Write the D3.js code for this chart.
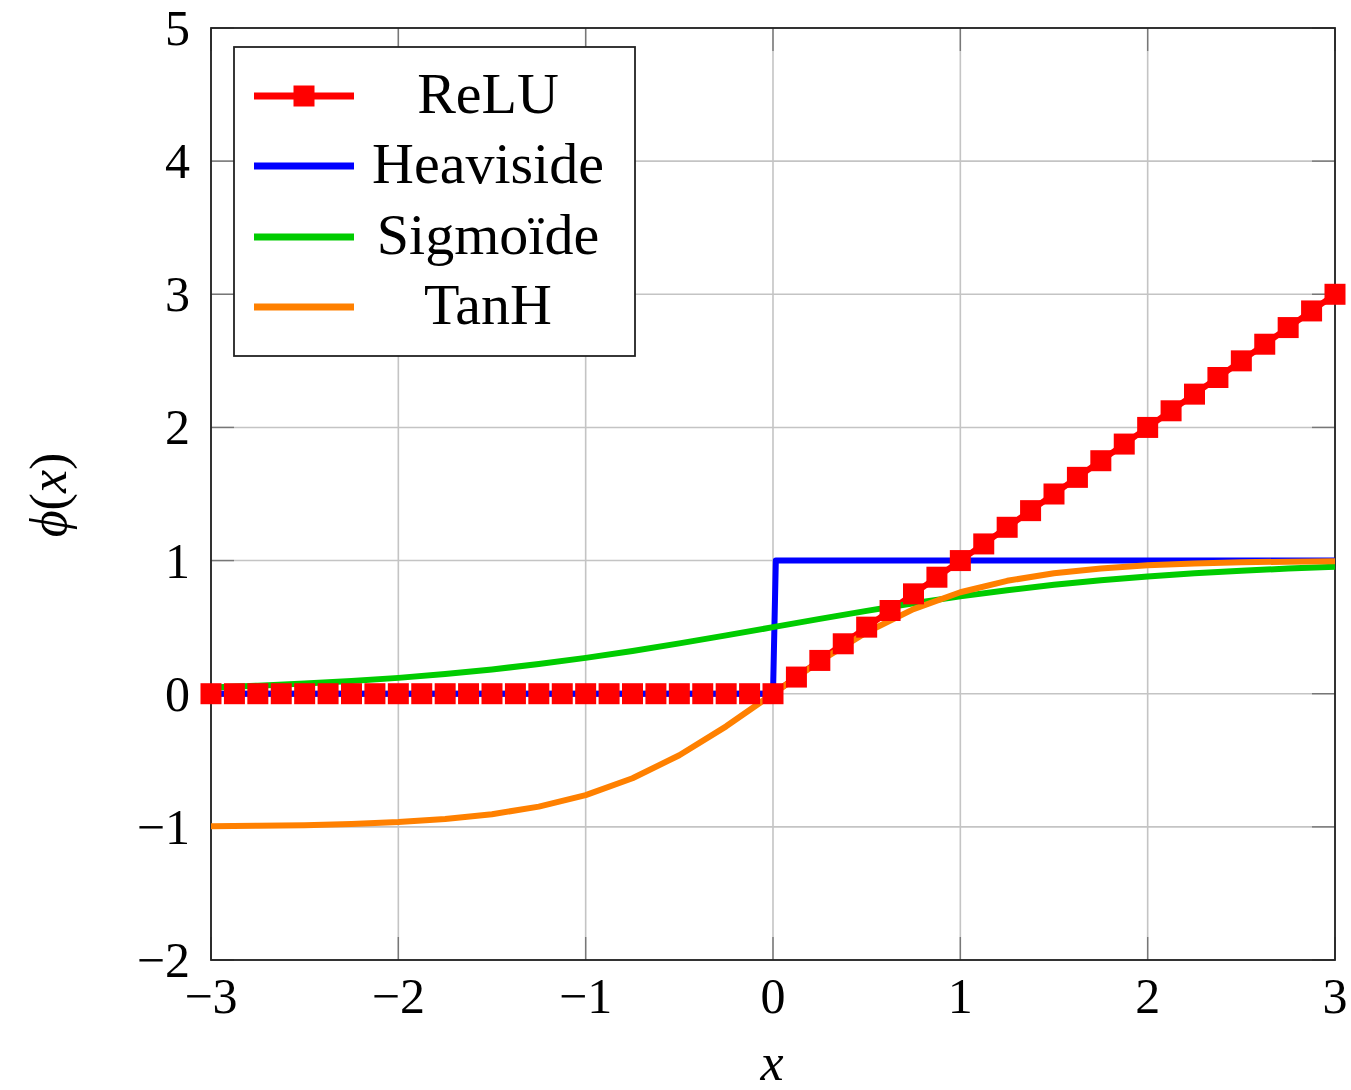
<!DOCTYPE html>
<html>
<head>
<meta charset="utf-8">
<script src="https://cdn.jsdelivr.net/npm/d3@7"></script>
<style>
  body { margin: 0; background: #fff; }
  text { font-family: "Liberation Serif", "DejaVu Serif", serif; fill: #000; }
</style>
</head>
<body>
<svg id="chart" width="1351" height="1090"></svg>
<script>
// sample points (ReLU drawn with 49 samples, curves with 25)
const reluX = [-3, -2.875, -2.75, -2.625, -2.5, -2.375, -2.25, -2.125, -2, -1.875, -1.75, -1.625,
  -1.5, -1.375, -1.25, -1.125, -1, -0.875, -0.75, -0.625, -0.5, -0.375, -0.25, -0.125,
  0, 0.125, 0.25, 0.375, 0.5, 0.625, 0.75, 0.875, 1, 1.125, 1.25, 1.375, 1.5, 1.625,
  1.75, 1.875, 2, 2.125, 2.25, 2.375, 2.5, 2.625, 2.75, 2.875, 3];
const reluY = [0, 0, 0, 0, 0, 0, 0, 0, 0, 0, 0, 0,
  0, 0, 0, 0, 0, 0, 0, 0, 0, 0, 0, 0,
  0, 0.125, 0.25, 0.375, 0.5, 0.625, 0.75, 0.875, 1, 1.125, 1.25, 1.375, 1.5, 1.625,
  1.75, 1.875, 2, 2.125, 2.25, 2.375, 2.5, 2.625, 2.75, 2.875, 3];

const heaviX = [-3, 0, 0.015, 3];
const heaviY = [0, 0, 1, 1];

const curveX = [-3, -2.75, -2.5, -2.25, -2, -1.75, -1.5, -1.25, -1, -0.75, -0.5, -0.25,
  0, 0.25, 0.5, 0.75, 1, 1.25, 1.5, 1.75, 2, 2.25, 2.5, 2.75, 3];
const sigmoidY = [0.047, 0.060, 0.076, 0.095, 0.119, 0.148, 0.182, 0.223, 0.269, 0.321, 0.378, 0.438,
  0.5, 0.562, 0.622, 0.679, 0.731, 0.777, 0.818, 0.852, 0.881, 0.905, 0.924, 0.940, 0.953];
const tanhY = [-0.995, -0.992, -0.987, -0.978, -0.964, -0.941, -0.905, -0.848, -0.762, -0.635, -0.462, -0.245,
  0, 0.245, 0.462, 0.635, 0.762, 0.848, 0.905, 0.941, 0.964, 0.978, 0.987, 0.992, 0.995];

const xTicks = [-3, -2, -1, 0, 1, 2, 3];
const yTicks = [-2, -1, 0, 1, 2, 3, 4, 5];

const legendNames = ["ReLU", "Heaviside", "Sigmoïde", "TanH"];
const colors = ["#ff0000", "#0000ff", "#00cc00", "#ff8000"];

const svg = d3.select("#chart");
const x = d3.scaleLinear().domain([-3, 3]).range([211, 1335]);
const y = d3.scaleLinear().domain([-2, 5]).range([960, 28]);
const fmt = v => v < 0 ? "\u2212" + Math.abs(v) : String(v);

// grid
svg.append("g").selectAll("line").data(xTicks).join("line")
  .attr("x1", d => x(d)).attr("x2", d => x(d))
  .attr("y1", y(-2)).attr("y2", y(5))
  .attr("stroke", "#c4c4c4").attr("stroke-width", 1.6);
svg.append("g").selectAll("line").data(yTicks).join("line")
  .attr("x1", x(-3)).attr("x2", x(3))
  .attr("y1", d => y(d)).attr("y2", d => y(d))
  .attr("stroke", "#c4c4c4").attr("stroke-width", 1.6);

// inner ticks on all sides
const tl = 23;
const ticks = svg.append("g").attr("stroke", "#777").attr("stroke-width", 1.4);
xTicks.forEach(d => {
  ticks.append("line").attr("x1", x(d)).attr("x2", x(d)).attr("y1", y(-2)).attr("y2", y(-2) - tl);
  ticks.append("line").attr("x1", x(d)).attr("x2", x(d)).attr("y1", y(5)).attr("y2", y(5) + tl);
});
yTicks.forEach(d => {
  ticks.append("line").attr("x1", x(-3)).attr("x2", x(-3) + tl).attr("y1", y(d)).attr("y2", y(d));
  ticks.append("line").attr("x1", x(3)).attr("x2", x(3) - tl).attr("y1", y(d)).attr("y2", y(d));
});

// frame
svg.append("rect")
  .attr("x", x(-3)).attr("y", y(5))
  .attr("width", x(3) - x(-3)).attr("height", y(-2) - y(5))
  .attr("fill", "none").attr("stroke", "#222").attr("stroke-width", 1.8);

// tick labels
svg.append("g").selectAll("text").data(xTicks).join("text")
  .attr("x", d => x(d)).attr("y", 1013)
  .attr("text-anchor", "middle").attr("font-size", 50)
  .text(fmt);
svg.append("g").selectAll("text").data(yTicks).join("text")
  .attr("x", 190).attr("y", d => y(d) + 17)
  .attr("text-anchor", "end").attr("font-size", 50)
  .text(fmt);

// axis labels
svg.append("text")
  .attr("x", 772).attr("y", 1080)
  .attr("text-anchor", "middle").attr("font-size", 52).attr("font-style", "italic")
  .text("x");
svg.append("text")
  .attr("transform", "translate(66,495) rotate(-90)")
  .attr("text-anchor", "middle").attr("font-size", 52).attr("fill", "#222")
  .html('<tspan font-style="italic">\u03d5</tspan>(<tspan font-style="italic">x</tspan>)');

// curves
const line = d3.line().x(d => x(d[0])).y(d => y(d[1]));
const series = [
  d3.zip(reluX, reluY),
  d3.zip(heaviX, heaviY),
  d3.zip(curveX, sigmoidY),
  d3.zip(curveX, tanhY)
];
series.forEach((pts, i) => {
  svg.append("path").datum(pts)
    .attr("d", line)
    .attr("fill", "none")
    .attr("stroke", colors[i])
    .attr("stroke-width", 6)
    .attr("stroke-linejoin", "round");
});

// ReLU markers on top
const ms = 21;
svg.append("g").selectAll("rect").data(series[0]).join("rect")
  .attr("x", d => x(d[0]) - ms / 2).attr("y", d => y(d[1]) - ms / 2)
  .attr("width", ms).attr("height", ms)
  .attr("fill", colors[0]);

// legend
const lg = svg.append("g");
lg.append("rect")
  .attr("x", 234).attr("y", 47).attr("width", 401).attr("height", 309)
  .attr("fill", "#fff").attr("stroke", "#222").attr("stroke-width", 1.8);
const rowY = [96, 166, 237, 307];
legendNames.forEach((name, i) => {
  lg.append("line")
    .attr("x1", 254).attr("x2", 354).attr("y1", rowY[i]).attr("y2", rowY[i])
    .attr("stroke", colors[i]).attr("stroke-width", 7);
  if (i === 0) {
    lg.append("rect")
      .attr("x", 304 - ms / 2).attr("y", rowY[i] - ms / 2)
      .attr("width", ms).attr("height", ms).attr("fill", colors[0]);
  }
  lg.append("text")
    .attr("x", 488).attr("y", rowY[i] + 17)
    .attr("text-anchor", "middle").attr("font-size", 58)
    .text(name);
});
</script>
</body>
</html>
